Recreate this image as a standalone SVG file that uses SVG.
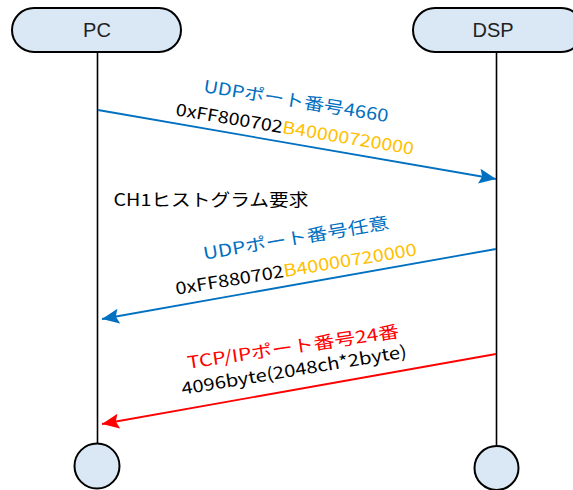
<svg xmlns="http://www.w3.org/2000/svg" width="573" height="490" viewBox="0 0 573 490">
<style>
.box{fill:#dae8f5;stroke:#000;stroke-width:2}
.life{stroke:#000;stroke-width:1.6;fill:none}
.hdr{font-family:"Liberation Sans",Arial,sans-serif;font-size:20px;fill:#222;text-anchor:middle}
.t{font-family:"Noto Sans CJK JP","Noto Sans",sans-serif;font-size:17px;text-anchor:middle}
.blue{fill:#0070C0}
.org{fill:#FFC000}
.red{fill:#FF0000}
.blk{fill:#000}
</style>
<defs>
<marker id="ab" markerUnits="userSpaceOnUse" markerWidth="20" markerHeight="16" refX="17" refY="7.5" orient="auto"><path d="M0,0 L17,7.5 L0,15 L3,7.5 Z" fill="#0070C0"/></marker>
<marker id="ar" markerUnits="userSpaceOnUse" markerWidth="20" markerHeight="16" refX="17" refY="7.5" orient="auto"><path d="M0,0 L17,7.5 L0,15 L3,7.5 Z" fill="#FF0000"/></marker>
</defs>
<g id="lifelines">
<line class="life" x1="97.5" y1="52" x2="97.5" y2="444"/>
<line class="life" x1="496.5" y1="52" x2="496.5" y2="446"/>
</g>
<g id="pc">
<rect class="box" x="12" y="8" width="169" height="44" rx="22"/>
<text class="hdr" x="97" y="37">PC</text>
</g>
<g id="dsp">
<rect class="box" x="413" y="8" width="170" height="44" rx="22"/>
<text class="hdr" x="493" y="37">DSP</text>
</g>
<g id="pc-end"><circle class="box" cx="97" cy="466" r="22.5"/></g>
<g id="dsp-end"><circle class="box" cx="496.5" cy="468" r="22"/></g>
<g id="connectors">
<line x1="98" y1="110" x2="496" y2="179" stroke="#0070C0" stroke-width="1.8" marker-end="url(#ab)"/>
<line x1="496" y1="249" x2="102" y2="319" stroke="#0070C0" stroke-width="1.8" marker-end="url(#ab)"/>
<line x1="496" y1="354" x2="102" y2="424" stroke="#FF0000" stroke-width="1.8" marker-end="url(#ar)"/>
</g>
<g id="labels">
<text class="t blue" transform="translate(295,107) rotate(9.3)" textLength="187" lengthAdjust="spacingAndGlyphs">UDPポート番号4660</text>
<text class="t blk" transform="translate(294,135) rotate(9.4)" textLength="241" lengthAdjust="spacingAndGlyphs">0xFF800702<tspan class="org">B40000720000</tspan></text>
<text class="t blk" x="211" y="206" textLength="195" lengthAdjust="spacingAndGlyphs">CH1ヒストグラム要求</text>
<text class="t blue" transform="translate(297,244) rotate(-9.6)" textLength="188" lengthAdjust="spacingAndGlyphs">UDPポート番号任意</text>
<text class="t blk" transform="translate(297,275) rotate(-9.3)" textLength="244" lengthAdjust="spacingAndGlyphs">0xFF880702<tspan class="org">B40000720000</tspan></text>
<text class="t red" transform="translate(294,353) rotate(-8.5)" textLength="214" lengthAdjust="spacingAndGlyphs">TCP/IPポート番号24番</text>
<text class="t blk" transform="translate(295,376) rotate(-9.5)" textLength="228" lengthAdjust="spacingAndGlyphs">4096byte(2048ch*2byte)</text>
</g>
</svg>
